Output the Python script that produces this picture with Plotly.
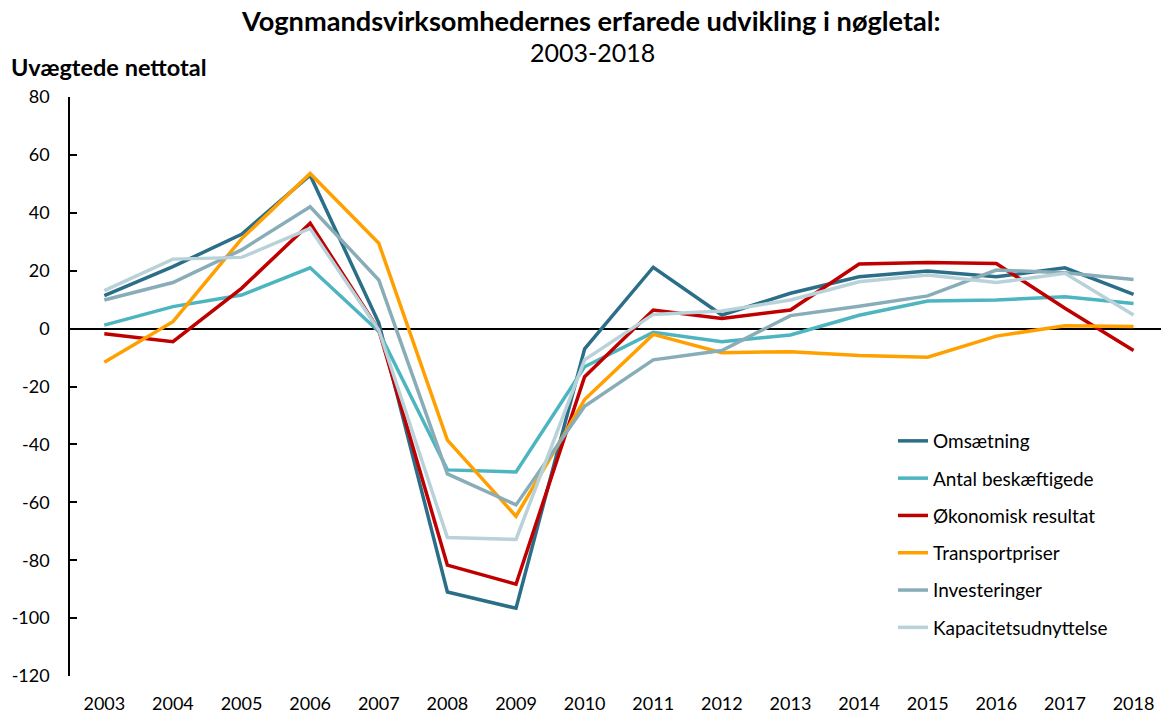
import plotly.graph_objects as go

years = ["2003", "2004", "2005", "2006", "2007", "2008", "2009", "2010",
         "2011", "2012", "2013", "2014", "2015", "2016", "2017", "2018"]

omsaetning = [11.4, 21.4, 32.6, 53.0, 2.0, -91.0, -96.6, -7.0, 21.2, 4.7, 12.2, 17.9, 19.9, 17.9, 21.0, 11.8]
antal_beskaeftigede = [1.2, 7.6, 11.6, 21.0, -1.0, -48.8, -49.5, -13.2, -1.3, -4.5, -2.2, 4.6, 9.5, 9.9, 11.0, 8.7]
oekonomisk_resultat = [-1.8, -4.5, 13.9, 36.4, -0.5, -81.7, -88.3, -16.6, 6.4, 3.5, 6.4, 22.3, 22.8, 22.5, 7.0, -7.6]
transportpriser = [-11.6, 2.4, 31.0, 53.6, 29.5, -38.5, -64.8, -24.5, -2.0, -8.3, -8.0, -9.3, -9.9, -2.6, 1.0, 0.7]
investeringer = [9.9, 15.9, 27.2, 42.1, 16.8, -50.2, -60.9, -26.8, -10.8, -7.6, 4.5, 7.7, 11.3, 20.2, 19.3, 17.0]
kapacitetsudnyttelse = [13.1, 24.0, 24.6, 34.6, -0.5, -72.2, -72.8, -10.8, 4.9, 6.1, 9.9, 16.2, 18.5, 15.9, 19.1, 4.7]

series = [
    ("Omsætning", omsaetning, "#2B6E88"),
    ("Antal beskæftigede", antal_beskaeftigede, "#4DB5C0"),
    ("Økonomisk resultat", oekonomisk_resultat, "#C00000"),
    ("Transportpriser", transportpriser, "#FFA000"),
    ("Investeringer", investeringer, "#89ADB8"),
    ("Kapacitetsudnyttelse", kapacitetsudnyttelse, "#B9D2D9"),
]

y_ticks = [80, 60, 40, 20, 0, -20, -40, -60, -80, -100, -120]
y_ticktext = [str(v) for v in y_ticks]  # plain hyphen minus, as in the reference

FONT = "Lato"

W, H = 1161, 714
l, r, t, b = 70, 0, 97, 38
pw, ph = W - l - r, H - t - b


def px(xp):
    return (xp - l) / pw


def py(yp):
    return (H - b - yp) / ph


fig = go.Figure()
for i, (name, vals, col) in enumerate(series):
    fig.add_trace(go.Scatter(
        x=list(range(len(years))), y=vals, name=name, mode="lines",
        line=dict(color=col, width=3.5), legendgroup=f"g{i}",
    ))

fig.update_layout(
    width=W, height=H,
    margin=dict(l=l, r=r, t=t, b=b, autoexpand=False),
    paper_bgcolor="white", plot_bgcolor="white",
    font=dict(family=FONT, size=18, color="black"),
    showlegend=True,
    legend=dict(x=px(893), y=py(422), xanchor="left", yanchor="top",
                bgcolor="rgba(0,0,0,0)", font=dict(size=19, family=FONT),
                tracegroupgap=9.6, itemwidth=30),
    xaxis=dict(
        range=[-0.5, 15.4], tickmode="array",
        tickvals=list(range(len(years))), ticktext=years,
        showgrid=False, zeroline=False, showline=False, ticks="",
        ticklabelstandoff=15, tickfont=dict(size=18, family=FONT),
    ),
    yaxis=dict(
        range=[-120, 80], tickmode="array", tickvals=y_ticks, ticktext=y_ticktext,
        showgrid=False,
        zeroline=True, zerolinecolor="black", zerolinewidth=1.5,
        showline=True, linecolor="black", linewidth=1.5,
        ticks="inside", ticklen=7, tickcolor="black", tickwidth=1.5,
        ticklabelstandoff=15, tickfont=dict(size=18, family=FONT),
    ),
)

fig.add_annotation(text="<b>Vognmandsvirksomhedernes erfarede udvikling i nøgletal:</b>",
                   x=px(591), y=py(20), xref="paper", yref="paper", showarrow=False,
                   xanchor="center", yanchor="middle", font=dict(size=27.2, family=FONT))
fig.add_annotation(text="2003-2018",
                   x=px(592), y=py(52), xref="paper", yref="paper", showarrow=False,
                   xanchor="center", yanchor="middle", font=dict(size=25, family=FONT))
fig.add_annotation(text="<b>Uvægtede nettotal</b>",
                   x=px(9), y=py(67), xref="paper", yref="paper", showarrow=False,
                   xanchor="left", yanchor="middle", font=dict(size=23.5, family=FONT))

fig.write_html("out.html", config={"displayModeBar": False},
               post_script="document.body.style.margin='0';document.body.style.overflow='hidden';")
